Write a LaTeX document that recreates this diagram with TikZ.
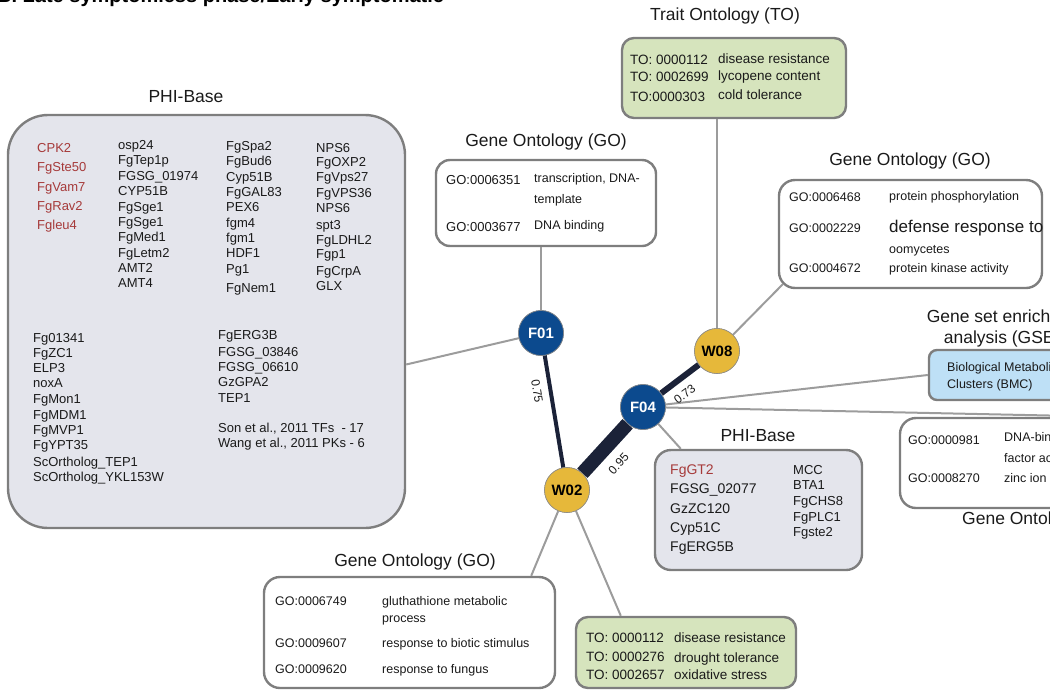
\documentclass[tikz,border=0pt]{standalone}
\usepackage{fontspec}
\setmainfont{Liberation Sans}
\usetikzlibrary{calc}
\definecolor{boxgray}{HTML}{E4E5EC}
\definecolor{boxgreen}{HTML}{D6E4BD}
\definecolor{boxblue}{HTML}{BEE0F6}
\definecolor{bordergray}{HTML}{7E7E7E}
\definecolor{linegray}{HTML}{9C9C9C}
\definecolor{phired}{HTML}{A63A3A}
\definecolor{textdark}{HTML}{1A1A1A}
\definecolor{nodeblue}{HTML}{0C4A8E}
\definecolor{nodeyellow}{HTML}{E6B83A}
\definecolor{edgenavy}{HTML}{1B2238}
\tikzset{
  fs/.style={font=\fontsize{#1}{#1}\selectfont},
  box/.style={draw=bordergray, line width=2.4pt, rounded corners=#1, inner sep=0},
  txt/.style={inner sep=0, anchor=base west, text=textdark},
  ttl/.style={inner sep=0, anchor=center, text=textdark, font=\fontsize{17.5}{21}\selectfont},
  conn/.style={draw=linegray, line width=2pt},
  edge/.style={draw=edgenavy},
  elab/.style={inner sep=0, sloped, text=textdark, font=\fontsize{12}{12}\selectfont},
  fnode/.style={circle, fill=nodeblue, draw=white!55!black, line width=0.6pt, minimum size=45pt, inner sep=0, text=white, font=\bfseries\fontsize{15}{15}\selectfont},
  wnode/.style={circle, fill=nodeyellow, draw=white!55!black, line width=0.6pt, minimum size=45pt, inner sep=0, text=black, font=\bfseries\fontsize{15}{15}\selectfont},
}
\begin{document}
\begin{tikzpicture}[x=1pt,y=-1pt]
\useasboundingbox (0,0) rectangle (1050,689);
\clip (0,0) rectangle (1050,689);

% title
\node[inner sep=0, anchor=base west, font=\bfseries\fontsize{20}{20}\selectfont] (title) at (-3,2.5) {B. Late symptomless phase/Early symptomatic};

% boxes
\node[box=40, fill=boxgray, minimum width=397pt, minimum height=413pt] (phibig) at (206.5,321.5) {};
\node[box=14, fill=white, minimum width=220pt, minimum height=86pt] (gotop) at (546,203) {};
\node[box=12, fill=boxgreen, minimum width=224pt, minimum height=80pt] (totop) at (734,78) {};
\node[box=16, fill=white, minimum width=263pt, minimum height=108pt] (goright) at (910.5,234) {};
\node[box=8, fill=boxblue, minimum width=171pt, minimum height=50pt] (bmc) at (1014.5,375) {};
\node[box=16, fill=white, minimum width=210pt, minimum height=90pt] (golow) at (1005,463) {};
\node[box=16, fill=boxgray, minimum width=207pt, minimum height=120pt] (phism) at (758.5,510) {};
\node[box=16, fill=white, minimum width=291pt, minimum height=111pt] (gobot) at (409.5,632.5) {};
\node[box=12, fill=boxgreen, minimum width=220pt, minimum height=71pt] (tobot) at (686,652.5) {};

% network nodes
\node[fnode] (F01) at (541,333) {F01};
\node[wnode] (W08) at (717,351) {W08};
\node[fnode] (F04) at (643,407) {F04};
\node[wnode] (W02) at (567,490) {W02};

% connector anchor points
\coordinate (phiA) at ($(phibig.east)+(0,43)$);
\coordinate (gorA) at ($(goright.south west)+(5,-5)$);
\coordinate (phismA) at ($(phism.north west)+(27,0)$);
\coordinate (gobotA) at ($(gobot.north east)+(-25,0)$);
\coordinate (tobotA) at ($(tobot.north west)+(46,0)$);

% gray connectors
\draw[conn] (F01) -- (gotop.south -| F01);
\draw[conn] (F01) -- (phiA);
\draw[conn] (W08) -- (totop.south -| W08);
\draw[conn] (W08) -- (gorA);
\draw[conn] (F04) -- (bmc.west);
\draw[conn] (F04) -- (golow.north east);
\draw[conn] (F04) -- (phismA);
\draw[conn] (W02) -- (gobotA);
\draw[conn] (W02) -- (tobotA);

% weighted edges
\draw[edge, line width=4pt] (F01) -- node[elab, below=7pt, pos=0.3] (l075) {0.75} (W02);
\draw[edge, line width=14pt] (W02) -- node[elab, below=9pt, pos=0.47] (l095) {0.95} (F04);
\draw[edge, line width=6pt] (F04) -- node[elab, below=8pt, pos=0.38] (l073) {0.73} (W08);

% redraw nodes on top
\node[fnode] at (F01) {F01};
\node[wnode] at (W08) {W08};
\node[fnode] at (F04) {F04};
\node[wnode] at (W02) {W02};

% section titles
\node[ttl] (tPhiBig) at (186,97) {PHI-Base};
\node[ttl] (tGoTop) at (546,142) {Gene Ontology (GO)};
\node[ttl] (tToTop) at (725,16) {Trait Ontology (TO)};
\node[ttl] (tGoRight) at (910,161) {Gene Ontology (GO)};
\node[ttl] (tGsea1) at (1008,316) {Gene set enrichment};
\node[ttl] (tGsea2) at (1008,339) {analysis (GSEA)};
\node[ttl] (tPhiSm) at (758,436) {PHI-Base};
\node[ttl, anchor=west] (tGoLow) at (962,520) {Gene Ontology (GO)};
\node[ttl] (tGoBot) at (415,562) {Gene Ontology (GO)};

% big PHI-Base lists
\foreach \t/\y [count=\i] in {CPK2/148,FgSte50/167,FgVam7/187,FgRav2/206,Fgleu4/225}
  \node[txt, fs=13, text=phired] (pa\i) at (37,\y+4.7) {\t};
\foreach \t/\y [count=\i] in {osp24/145,FgTep1p/160,FGSG\_01974/176,CYP51B/191,FgSge1/207,FgSge1/222,FgMed1/237,FgLetm2/253,AMT2/268,AMT4/283}
  \node[txt, fs=13] (pb\i) at (118,\y+4.7) {\t};
\foreach \t/\y [count=\i] in {FgSpa2/146,FgBud6/161,Cyp51B/177,FgGAL83/192,PEX6/207,fgm4/223,fgm1/238,HDF1/253,Pg1/269,FgNem1/288}
  \node[txt, fs=13] (pc\i) at (226,\y+4.7) {\t};
\foreach \t/\y [count=\i] in {NPS6/148,FgOXP2/162,FgVps27/177,FgVPS36/193,NPS6/208,spt3/225,FgLDHL2/240,Fgp1/254,FgCrpA/271,GLX/286}
  \node[txt, fs=13] (pd\i) at (316,\y+4.7) {\t};
\foreach \t/\y [count=\i] in {Fg01341/338,FgZC1/353,ELP3/368,noxA/383,FgMon1/399,FgMDM1/415,FgMVP1/430,FgYPT35/445,ScOrtholog\_TEP1/462,ScOrtholog\_YKL153W/477}
  \node[txt, fs=13] (pe\i) at (33,\y+4.7) {\t};
\foreach \t/\y [count=\i] in {FgERG3B/335,FGSG\_03846/352,FGSG\_06610/367,GzGPA2/382,TEP1/398}
  \node[txt, fs=13] (pf\i) at (218,\y+4.7) {\t};
\node[txt, fs=13] (pson) at (218,432.7) {Son et al., 2011 TFs\ \ - 17};
\node[txt, fs=13] (pwang) at (218,447.7) {Wang et al., 2011 PKs - 6};

% GO top
\node[txt, fs=13] (g1a) at (446,184.5) {GO:0006351};
\node[txt, fs=12.5] (g1b) at (534,182.5) {transcription, DNA-};
\node[txt, fs=12.5] (g1c) at (534,203.5) {template};
\node[txt, fs=13] (g1d) at (446,231.5) {GO:0003677};
\node[txt, fs=12.5] (g1e) at (534,229.5) {DNA binding};

% TO top
\node[txt, fs=13.5] (t1a) at (630,64.8) {TO: 0000112};
\node[txt, fs=13.5] (t1b) at (718,63.8) {disease resistance};
\node[txt, fs=13.5] (t1c) at (630,81.8) {TO: 0002699};
\node[txt, fs=13.5] (t1d) at (718,80.8) {lycopene content};
\node[txt, fs=13.5] (t1e) at (630,101.8) {TO:0000303};
\node[txt, fs=13.5] (t1f) at (718,99.8) {cold tolerance};

% GO right
\node[txt, fs=12.5] (g2a) at (789,201.5) {GO:0006468};
\node[txt, fs=12.5] (g2b) at (889,200.5) {protein phosphorylation};
\node[txt, fs=12.5] (g2c) at (789,232.5) {GO:0002229};
\node[txt, fs=17] (g2d) at (889,232) {defense response to};
\node[txt, fs=12.5] (g2e) at (889,253.5) {oomycetes};
\node[txt, fs=12.5] (g2f) at (789,272.5) {GO:0004672};
\node[txt, fs=12.5] (g2g) at (889,272.5) {protein kinase activity};

% BMC
\node[txt, fs=12.5] (b1) at (947,371.5) {Biological Metabolic};
\node[txt, fs=12.5] (b2) at (947,388.5) {Clusters (BMC)};

% GO low right
\node[txt, fs=12.5] (g3a) at (908,444.5) {GO:0000981};
\node[txt, fs=12.5] (g3b) at (1004,441.5) {DNA-binding transcription};
\node[txt, fs=12.5] (g3c) at (1004,462.5) {factor activity};
\node[txt, fs=12.5] (g3d) at (908,482.5) {GO:0008270};
\node[txt, fs=12.5] (g3e) at (1004,482.5) {zinc ion binding};

% PHI small
\node[txt, fs=14, text=phired] (s1) at (670,474) {FgGT2};
\foreach \t/\y [count=\i] in {FGSG\_02077/488,GzZC120/508,Cyp51C/527,FgERG5B/546}
  \node[txt, fs=14] (sa\i) at (670,\y+5) {\t};
\foreach \t/\y [count=\i] in {MCC/470,BTA1/485,FgCHS8/501,FgPLC1/517,Fgste2/532}
  \node[txt, fs=13] (sb\i) at (793,\y+4.7) {\t};

% GO bottom
\node[txt, fs=12.5] (g4a) at (275,605.5) {GO:0006749};
\node[txt, fs=12.5] (g4b) at (382,605.5) {gluthathione metabolic};
\node[txt, fs=12.5] (g4c) at (382,622.5) {process};
\node[txt, fs=12.5] (g4d) at (275,647.5) {GO:0009607};
\node[txt, fs=12.5] (g4e) at (382,647.5) {response to biotic stimulus};
\node[txt, fs=12.5] (g4f) at (275,673.5) {GO:0009620};
\node[txt, fs=12.5] (g4g) at (382,673.5) {response to fungus};

% TO bottom
\node[txt, fs=13.5] (t2a) at (586,642.8) {TO: 0000112};
\node[txt, fs=13.5] (t2b) at (674,642.8) {disease resistance};
\node[txt, fs=13.5] (t2c) at (586,661.8) {TO: 0000276};
\node[txt, fs=13.5] (t2d) at (674,662.8) {drought tolerance};
\node[txt, fs=13.5] (t2e) at (586,679.8) {TO: 0002657};
\node[txt, fs=13.5] (t2f) at (674,679.8) {oxidative stress};
\end{tikzpicture}
\end{document}
